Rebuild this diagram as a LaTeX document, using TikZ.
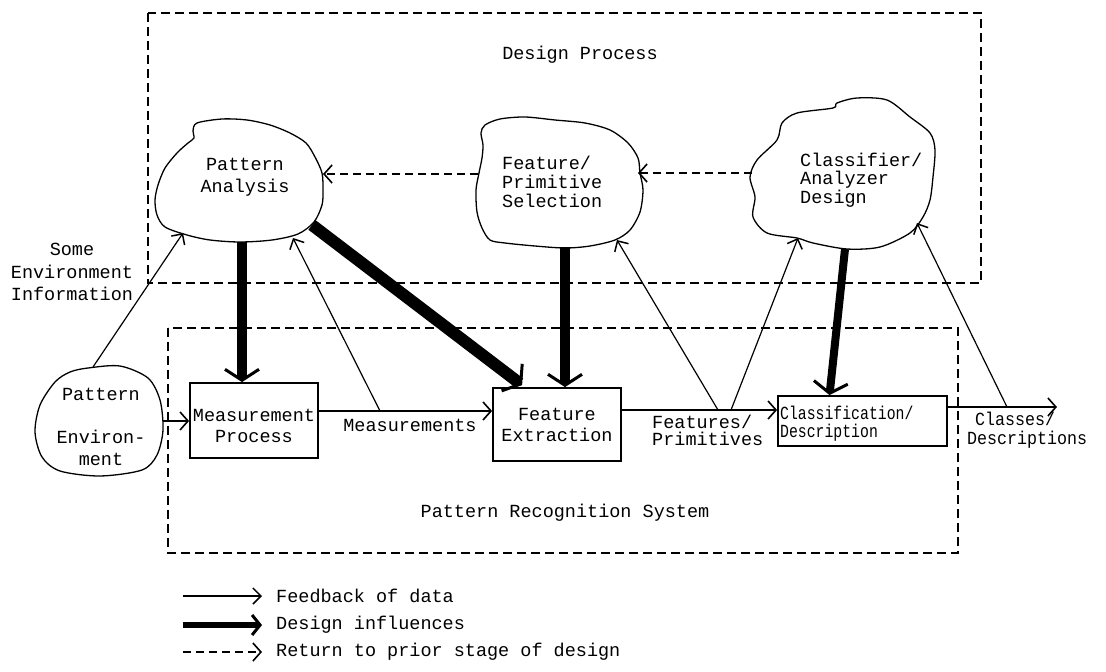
\documentclass[tikz,border=0pt]{standalone}
\usepackage{fontspec}
\usetikzlibrary{arrows.meta,calc}
\newfontfamily\tw{Liberation Mono}
\newfontfamily\twc{Liberation Mono}[FakeStretch=0.8]
\newfontfamily\twn{Liberation Mono}[FakeStretch=0.9]
\tikzset{
  txt/.style={font=\tw\fontsize{18.5}{21}\selectfont, inner sep=0pt, align=center},
  blob/.style={line width=1.3pt},
  stagebox/.style={draw, line width=1.8pt, inner sep=0pt},
  region/.style={line width=1.8pt, dash pattern=on 9pt off 5pt},
  feedback/.style={line width=1.2pt, -{Straight Barb[line width=1.5pt,length=8pt,width=16pt]}},
  flow/.style={line width=1.6pt, -{Straight Barb[line width=1.6pt,length=8pt,width=18pt]}},
  influence/.style={line width=#1, -{Straight Barb[line width=3pt,length=11pt,width=34pt]}},
  goback/.style={line width=1.6pt, dash pattern=on 8pt off 5pt, -{Straight Barb[line width=1.6pt,length=8pt,width=18pt]}},
}
\begin{document}
\begin{tikzpicture}[x=1pt,y=-1pt]
\useasboundingbox (0,0) rectangle (1106,672);

% enclosing regions
\draw[region] (148,13) rectangle (981,283);
\draw[region] (168,328) rectangle (958,553);
\node[txt] (dp) at (580,55) {Design Process};
\node[txt] (prs) at (565,513) {Pattern Recognition System};

% design stages (hand-drawn clouds)
\draw[blob] plot[smooth cycle] coordinates {(197,123) (222,119) (247,120) (270,125) (290,133) (306,143) (315,157) (322,173) (323,190) (322,205) (314,222) (298,234) (272,240) (240,242) (210,240) (187,235) (165,227) (157,215) (155,200) (158,185) (165,168) (177,153) (188,143) (194,138) (193,131)};
\node[txt, font=\tw\fontsize{18.5}{22}\selectfont] (pa) at (245,177) {Pattern\\Analysis};

\draw[blob] plot[smooth cycle] coordinates {(485,125) (500,119) (525,117) (555,120) (585,123) (610,130) (628,143) (638,158) (640,173) (643,190) (640,212) (630,230) (615,240) (590,246) (565,248) (535,246) (505,243) (490,240) (482,228) (477,212) (476,190) (479,173) (482,158) (483,145) (481,133)};
\node[txt, align=left, anchor=west, font=\tw\fontsize{18.5}{19}\selectfont] (fs) at (502,182) {Feature/\\Primitive\\Selection};

\draw[blob] plot[smooth cycle] coordinates {(837,103) (857,98) (887,100) (910,117) (930,133) (935,150) (933,177) (930,200) (923,217) (910,233) (880,247) (847,249) (813,243) (797,238) (767,233) (753,217) (755,197) (750,177) (757,160) (777,140) (782,123) (797,113) (833,108)};
\node[txt, align=left, anchor=west, font=\tw\fontsize{18.5}{18.5}\selectfont] (cd) at (800,180) {Classifier/\\Analyzer\\Design};

\draw[blob] plot[smooth cycle] coordinates {(88,368) (120,366) (148,378) (160,400) (163,430) (157,455) (142,470) (100,476) (60,471) (42,457) (35,432) (40,405) (55,382) (70,372)};
\node[txt, font=\tw\fontsize{18.5}{22}\selectfont] (pe) at (101,427) {Pattern\\[21pt]Environ-\\ment};

\node[txt, font=\tw\fontsize{18.5}{22.5}\selectfont] (sei) at (72,272) {Some\\Environment\\Information};

% system stages
\node[stagebox, minimum width=128pt, minimum height=75pt] (mp) at (254,420.5) {};
\node[txt] (mpt) at (254,425.5) {Measurement\\Process};
\node[stagebox, minimum width=128pt, minimum height=73pt] (fe) at (557,424.5) {};
\node[txt] (fet) at (557,424.5) {Feature\\Extraction};
\node[stagebox, minimum width=169pt, minimum height=50pt] (cl) at (862.5,421) {};
\node[txt, align=left, anchor=west, font=\twc\fontsize{18.5}{18}\selectfont] (clt) at (780,424) {Classification/\\Description};

\node[txt] (ms) at (410,425) {Measurements};
\node[txt, align=left, anchor=west, font=\tw\fontsize{18.5}{17}\selectfont] (fp) at (652,430) {Features/\\Primitives};
\node[txt, align=left, anchor=west, font=\twn\fontsize{18.5}{19}\selectfont] (cdo) at (967,430) {\hspace{8pt}Classes/\\Descriptions};

% attachment points on the clouds and on the data lines
\coordinate (pe-t) at (93,367);
\coordinate (pe-r) at (163,421);
\coordinate (pa-b1) at (183,233);
\coordinate (pa-b2) at (293,238);
\coordinate (pa-d) at (242,242);
\coordinate (pa-r) at (312,225);
\coordinate (pa-e) at (323,174);
\coordinate (fs-w) at (478,174);
\coordinate (fs-e) at (638,173);
\coordinate (fs-b) at (617,240);
\coordinate (fs-d) at (565,247);
\coordinate (cd-w) at (752,173);
\coordinate (cd-b1) at (798,238);
\coordinate (cd-b2) at (917,223);
\coordinate (cd-d) at (845,249);
\coordinate (m1) at (380,411);
\coordinate (f1) at (718,410);
\coordinate (f2) at (731,410);
\coordinate (c1) at (1007,407);
\coordinate (out) at (1057,407);

% data flow
\draw[flow] (pe-r) -- (mp.west |- pe-r);
\draw[flow] ([yshift=9.5pt]mp.east) -- ([yshift=13.5pt]fe.west);
\draw[flow] ([yshift=14.5pt]fe.east) -- ([yshift=11pt]cl.west);
\draw[flow] ([yshift=14pt]cl.east) -- (out);

% feedback of data
\draw[feedback] (pe-t) -- (pa-b1);
\draw[feedback] (m1) -- (pa-b2);
\draw[feedback] (f1) -- (fs-b);
\draw[feedback] (f2) -- (cd-b1);
\draw[feedback] (c1) -- (cd-b2);

% design influences
\draw[influence=10pt] (pa-d) -- (mp.north -| pa-d);
\draw[influence=12pt] (pa-r) -- ([xshift=30pt,yshift=2pt]fe.north west);
\draw[influence=10pt] (fs-d) -- (fe.north -| fs-d);
\draw[influence=8pt] (cd-d) -- ([xshift=-33pt]cl.north);

% return to prior stage
\draw[goback] (fs-w) -- (pa-e);
\draw[goback] (cd-w) -- (fs-e);

% legend
\node[txt, anchor=west] (lg1) at (276,596) {Feedback of data};
\node[txt, anchor=west] (lg2) at (276,625) {Design influences};
\node[txt, anchor=west] (lg3) at (276,652) {Return to prior stage of design};
\coordinate (lg1s) at (183,596);
\coordinate (lg2s) at (183,625);
\coordinate (lg3s) at (183,652);
\draw[feedback] (lg1s) -- ([xshift=-14pt]lg1.west);
\draw[line width=6pt, -{Straight Barb[line width=3pt,length=8pt,width=20pt]}] (lg2s) -- ([xshift=-14pt]lg2.west);
\draw[goback] (lg3s) -- ([xshift=-14pt]lg3.west);
\end{tikzpicture}
\end{document}
